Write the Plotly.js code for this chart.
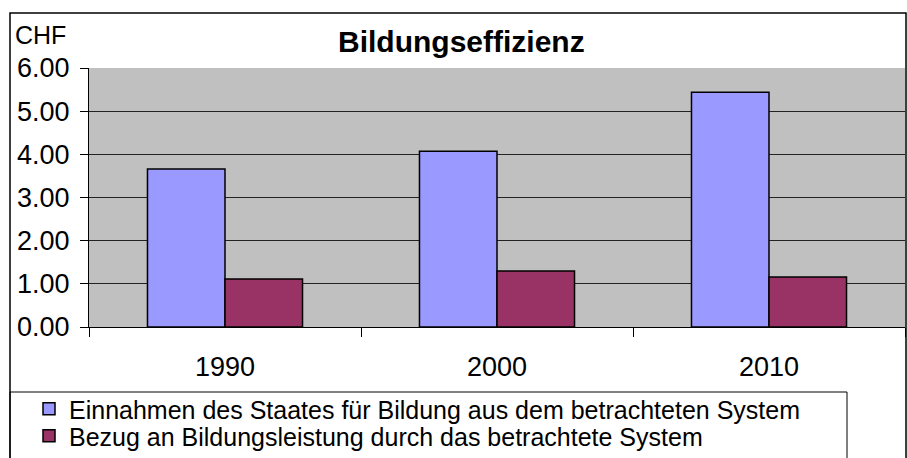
<!DOCTYPE html>
<html>
<head>
<meta charset="utf-8">
<script src="https://cdn.plot.ly/plotly-3.0.1.min.js"></script>
<style>
html, body { margin: 0; padding: 0; background: #fff; }
#chart { width: 907px; height: 458px; }
</style>
</head>
<body>
<div id="chart"></div>
<script>
const years = ['1990', '2000', '2010'];
const einnahmen = [3.66, 4.07, 5.44];
const bezug = [1.11, 1.30, 1.16];
const seriesNames = [
  'Einnahmen des Staates für Bildung aus dem betrachteten System',
  'Bezug an Bildungsleistung durch das betrachtete System'
];
const yTicks = [0, 1, 2, 3, 4, 5, 6];
const yTickText = ['0.00', '1.00', '2.00', '3.00', '4.00', '5.00', '6.00'];

const W = 907, H = 458;
const M = { l: 89, r: 2, t: 68, b: 131 };
const PW = W - M.l - M.r, PH = H - M.t - M.b;
const px = v => (v - M.l) / PW;
const py = v => (H - M.b - v) / PH;

const FONT = 'Liberation Sans, Arial, sans-serif';

const traces = [
  {
    type: 'bar', x: years, y: einnahmen, name: seriesNames[0], legend: 'legend',
    marker: { color: '#9999FF', line: { color: '#000', width: 1.5 } }
  },
  {
    type: 'bar', x: years, y: bezug, name: seriesNames[1], legend: 'legend2',
    marker: { color: '#993366', line: { color: '#000', width: 1.5 } }
  }
];

const legendBase = {
  orientation: 'v',
  xanchor: 'left', yanchor: 'top',
  bgcolor: 'rgba(0,0,0,0)',
  borderwidth: 0,
  font: { family: FONT, size: 25, color: '#000' },
  itemwidth: 30,
  tracegroupgap: 0
};

const layout = {
  width: W, height: H,
  margin: Object.assign({ autoexpand: false, pad: 0 }, M),
  paper_bgcolor: '#fff',
  plot_bgcolor: '#C0C0C0',
  font: { family: FONT, color: '#000', size: 25 },
  barmode: 'group',
  bargap: 0.43,
  bargroupgap: 0,
  showlegend: true,
  legend: Object.assign({}, legendBase, { x: px(29), y: py(386) }),
  legend2: Object.assign({}, legendBase, { x: px(29), y: py(413) }),
  xaxis: {
    type: 'category',
    automargin: false,
    showgrid: false,
    showline: true, linecolor: '#000', linewidth: 1,
    ticks: 'outside', tickson: 'boundaries', ticklen: 9, tickcolor: '#000', tickwidth: 1,
    tickfont: { family: FONT, size: 27, color: '#000' },
    ticklabelstandoff: 16,
    zeroline: false,
    fixedrange: true
  },
  yaxis: {
    automargin: false,
    range: [0, 6],
    tickvals: yTicks, ticktext: yTickText,
    showgrid: true, gridcolor: '#222', gridwidth: 1,
    showline: true, linecolor: '#000', linewidth: 1,
    ticks: 'outside', ticklen: 8, tickcolor: '#000', tickwidth: 1,
    tickfont: { family: FONT, size: 27, color: '#000' },
    ticklabelstandoff: 5,
    zeroline: false,
    fixedrange: true
  },
  annotations: [
    {
      text: '<b>Bildungseffizienz</b>', showarrow: false,
      xref: 'paper', yref: 'paper', x: px(461), y: py(41),
      xanchor: 'center', yanchor: 'middle',
      font: { family: FONT, size: 30, color: '#000' }
    },
    {
      text: 'CHF', showarrow: false,
      xref: 'paper', yref: 'paper', x: px(14), y: py(35),
      xanchor: 'left', yanchor: 'middle', borderpad: 0,
      font: { family: FONT, size: 25, color: '#000' }
    }
  ],
  shapes: [
    {
      type: 'rect', xref: 'paper', yref: 'paper', layer: 'above',
      x0: px(10), x1: px(906), y0: py(480), y1: py(13),
      line: { color: '#000', width: 1.5 }, fillcolor: 'rgba(0,0,0,0)'
    },
    {
      type: 'rect', xref: 'paper', yref: 'paper', layer: 'above',
      x0: px(10), x1: px(847), y0: py(480), y1: py(392),
      line: { color: '#000', width: 1 }, fillcolor: 'rgba(0,0,0,0)'
    }
  ]
};

Plotly.newPlot('chart', traces, layout, { displayModeBar: false, staticPlot: true });
</script>
</body>
</html>
